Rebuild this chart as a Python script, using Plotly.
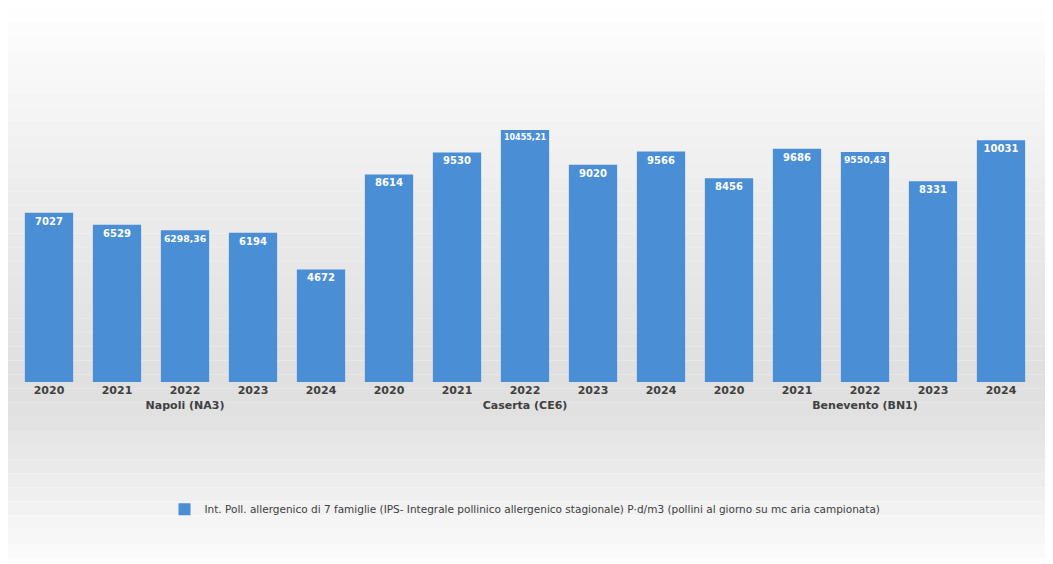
import plotly.graph_objects as go

cities = ["<b>Napoli (NA3)</b>"]*5 + ["<b>Caserta (CE6)</b>"]*5 + ["<b>Benevento (BN1)</b>"]*5
years = ["<b>2020</b>","<b>2021</b>","<b>2022</b>","<b>2023</b>","<b>2024</b>"]*3
values = [7027, 6529, 6298.36, 6194, 4672, 8614, 9530, 10455.21, 9020, 9566, 8456, 9686, 9550.43, 8331, 10031]
labels = ["7027","6529","6298,36","6194","4672","8614","9530","10455,21","9020","9566","8456","9686","9550,43","8331","10031"]
series_name = "Int. Poll. allergenico di 7 famiglie (IPS- Integrale pollinico allergenico stagionale) P·d/m3 (pollini al giorno su mc aria campionata)"

fig = go.Figure(go.Bar(
    x=[cities, years], y=values, text=["<b>%s</b>" % l for l in labels], name=series_name,
    textposition="inside", insidetextanchor="end", textangle=0,
    textfont=dict(color="white", size=10, family="DejaVu Sans"),
    marker=dict(color="#4a8ed6", line=dict(width=0)),
    showlegend=True, cliponaxis=False,
))

shapes = []
n = 40
def grey(t):
    d = abs(t - 0.68)
    g = 224 + (255 - 224) * min(1, (d / 0.68) ** 1.3 if t < 0.68 else (d / 0.32) ** 1.2)
    return int(g)
H = 265
for i in range(n):
    t0, t1 = i / n, (i + 1) / n
    g = grey((t0 + t1) / 2)
    shapes.append(dict(type="rect", xref="paper", yref="paper", x0=-0.05, x1=1.05,
                       y0=1 + (109/H) - (564/H) * t1, y1=1 + (109/H) - (564/H) * t0,
                       fillcolor=f"rgb({g},{g},{g})", line=dict(width=0), layer="below"))

fig.update_layout(
    width=1053, height=564,
    margin=dict(l=7, r=26, t=109, b=190),
    paper_bgcolor="white", plot_bgcolor="rgba(0,0,0,0)",
    shapes=shapes, bargap=0.29,
    font=dict(family="DejaVu Sans", color="#595959"),
    xaxis=dict(showgrid=False, ticks="", showline=False, dividerwidth=0,
               dividercolor="rgba(0,0,0,0)",
               tickfont=dict(size=11, color="#404040", family="DejaVu Sans")),
    yaxis=dict(visible=False, range=[0, 11000]),
    legend=dict(orientation="h", x=0.5, xanchor="center", y=-0.48, yanchor="middle",
                font=dict(size=10.5, color="#404040"), bgcolor="rgba(0,0,0,0)",
                itemwidth=30),
)
fig.write_html("out.html")
